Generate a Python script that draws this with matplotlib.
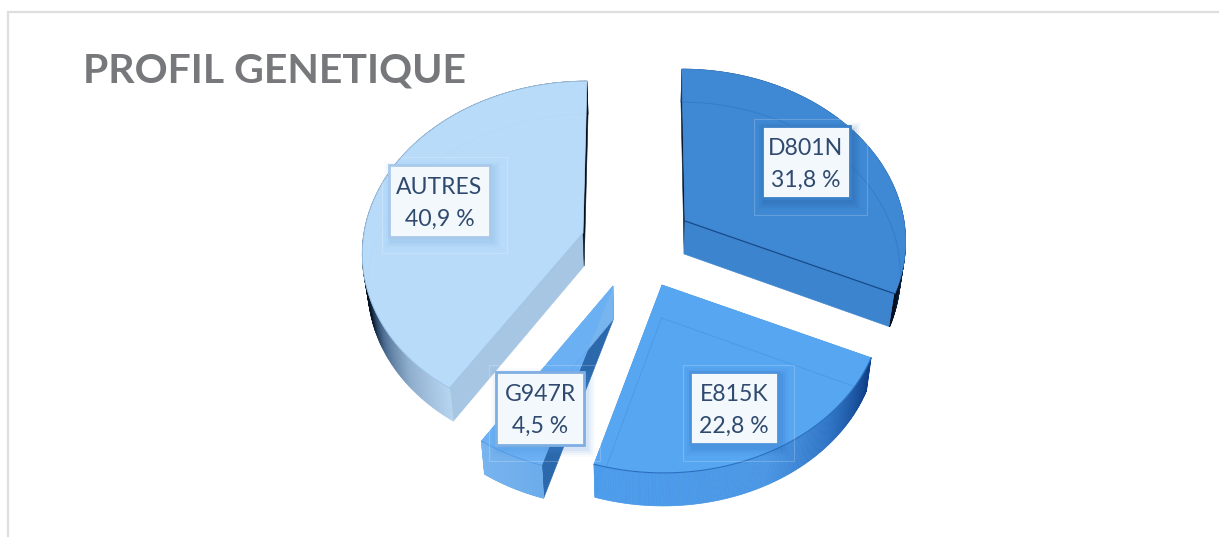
import numpy as np
import matplotlib
matplotlib.use("Agg")
import matplotlib.pyplot as plt
from matplotlib.patches import Polygon, Rectangle
from matplotlib.colors import to_rgb

# ---- data ----
labels = ["D801N", "E815K", "G947R", "AUTRES"]
values = [31.8, 22.8, 4.5, 40.9]
value_labels = ["31,8 %", "22,8 %", "4,5 %", "40,9 %"]
title = "PROFIL GENETIQUE"

# ---- styles / layout (pixels) ----
W, H = 1219, 537
apexes = [(685, 221), (662, 285), (613, 286), (583, 233)]
top_cols = ["#3F88D3", "#57A6F1", "#6BB0F3", "#B8DBF9"]
start_wall = ["#071A33", "#4A96E4", "#2B68AC", "#A6C6E4"]
end_wall = ["#3C84CD", "#4A96E4", "#78B4EE", "#05101E"]
arc_stops = [
    [(-24.5, "#040C18"), (-8, "#123C70"), (90, "#123C70")],
    [(-106.6, "#4C9CEC"), (-65, "#4A96E4"), (-45, "#2E74C6"), (-24.5, "#0E3C84")],
    [(-122.8, "#78B4EE"), (-106.6, "#6CACEB")],
    [(-270, "#04101C"), (-170, "#04101C"), (-160, "#0D2036"), (-150, "#4A6A90"), (-137, "#8FAFCE"), (-123, "#B5D4EF")],
]
ghost_cols = ["#1C5FA6", "#2A78CE", "#3C88D8", "#8DB8E0"]
ghost_alpha = [0.28, 0.25, 0.15, 0.06]
front_cols = ["#174A8A", "#1F63B4", "#4A90DC", "#8FB8E0"]
boxes = [(762, 126, 850, 198), (690, 372, 778, 444), (496, 372, 584, 445), (389, 165, 490, 237)]
outer = [(754, 119, 867, 215), (683, 365, 794, 461), (489, 365, 600, 461), (382, 157, 507, 253)]
box_edges = ["#3A80C8", "#4C93DD", "#7FAEE3", "#A9C9EC"]
shadow_cols = ["#174A8A", "#1F63B4", "#4A90DC", "#6FA6DC"]
A, B, K, LEAN = 219.0, 168.0, 0.106, 0.07
DEPTH, X0, SHRINK = 33.0, 640.0, 0.98

plt.rcParams["font.family"] = ["Lato", "DejaVu Sans"]
fig = plt.figure(figsize=(W / 100, H / 100), dpi=100)
ax = fig.add_axes([0, 0, 1, 1])
ax.set_xlim(0, W)
ax.set_ylim(H, 0)
ax.axis("off")


def project(apex, deg):
    t = np.radians(deg)
    u, v = np.cos(t), np.sin(t)
    d = 1 + K * v
    x = apex[0] + A * u / d + (X0 - apex[0]) * LEAN * v
    y = apex[1] - B * v / d
    return x, y


def drop(x, y):
    return X0 + (np.asarray(x) - X0) * SHRINK, np.asarray(y) + DEPTH


def stop_colour(stops, deg):
    angs = [s[0] for s in stops]
    rgb = np.array([to_rgb(s[1]) for s in stops])
    return tuple(np.interp(deg, angs, rgb[:, i]) for i in range(3))


# frame
ax.plot([8, 8, W], [H, 12, 12], color="#DEDEDE", lw=1.6, solid_joinstyle="miter", zorder=1)

# slices, clockwise from twelve o'clock
start = 90.0
for i, val in enumerate(values):
    end = start - val / 100 * 360
    ap = apexes[i]
    angs = np.linspace(start, end, 200)
    ax_, ay_ = project(ap, angs)
    bx_, by_ = drop(ax_, ay_)
    apbx, apby = drop(ap[0], ap[1])
    z = 2 + i * 0.01
    # radial walls
    for k, col in [(0, start_wall[i]), (-1, end_wall[i])]:
        ax.add_patch(Polygon([(ap[0], ap[1]), (ax_[k], ay_[k]), (bx_[k], by_[k]), (apbx, apby)],
                             closed=True, fc=col, ec=col, lw=0.4, zorder=z))
    # outer wall as gradient strip
    for j in range(len(angs) - 1):
        c = stop_colour(arc_stops[i], (angs[j] + angs[j + 1]) / 2)
        ax.add_patch(Polygon([(ax_[j], ay_[j]), (ax_[j + 1], ay_[j + 1]), (bx_[j + 1], by_[j + 1]), (bx_[j], by_[j])],
                             closed=True, fc=c, ec=c, lw=0.5, zorder=z + 0.001))
    # top face
    xy = np.column_stack([np.r_[ap[0], ax_], np.r_[ap[1], ay_]])
    face = Polygon(xy, closed=True, fc=top_cols[i], ec=top_cols[i], lw=0.5, zorder=z + 0.002)
    ax.add_patch(face)
    # base outline seen through the translucent top
    ghost, = ax.plot(np.r_[apbx, bx_, apbx], np.r_[apby, by_, apby], color=ghost_cols[i],
                     lw=0.7, alpha=ghost_alpha[i], zorder=z + 0.003)
    ghost.set_clip_path(face)
    # front edges of the top face
    if i == 0:
        ax.plot([ap[0], ax_[-1]], [ap[1], ay_[-1]], color=front_cols[i], lw=0.9, zorder=z + 0.004)
    elif i == 1:
        ax.plot(ax_, ay_, color=front_cols[i], lw=0.8, alpha=0.8, zorder=z + 0.004)
    elif i == 2:
        ax.plot(ax_, ay_, color=front_cols[i], lw=0.6, alpha=0.7, zorder=z + 0.004)
    else:
        ax.plot(np.r_[ap[0], ax_], np.r_[ap[1], ay_], color=front_cols[i], lw=0.6, alpha=0.7, zorder=z + 0.004)
    start = end

# data labels
for i in range(len(labels)):
    x0, y0, x1, y1 = boxes[i]
    ox0, oy0, ox1, oy1 = outer[i]
    ax.add_patch(Rectangle((ox0, oy0), ox1 - ox0, oy1 - oy0, fc="none", ec="#FFFFFF", alpha=0.2, lw=0.8, zorder=5))
    for g, a in [(8, 0.03), (6, 0.05), (4, 0.07), (2, 0.09)]:
        ax.add_patch(Rectangle((x0 + 3 - g, y0 + 4 - g), x1 - x0 + 2 * g, y1 - y0 + 2 * g,
                               fc=shadow_cols[i], ec="none", alpha=a, zorder=5.1))
    ax.add_patch(Rectangle((x0, y0), x1 - x0, y1 - y0, fc="#F3F8FD", ec=box_edges[i], lw=2.0, zorder=5.2))
    cx = (x0 + x1) / 2
    ax.text(cx, y0 + 29, labels[i], color="#2F4A6E", fontsize=16.6, ha="center", va="baseline", zorder=6)
    ax.text(cx, y0 + 61, value_labels[i], color="#2F4A6E", fontsize=16.6, ha="center", va="baseline", zorder=6)

ax.text(83, 83, title, color="#77787B", fontsize=29.5, fontweight="bold", ha="left", va="baseline", zorder=7)

fig.savefig("out.png", dpi=100)
